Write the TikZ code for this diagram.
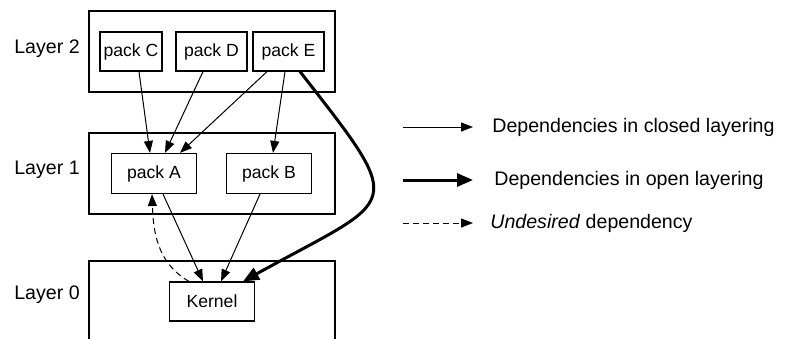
\documentclass[tikz,border=0pt]{standalone}
\usepackage{fontspec}
\setmainfont{Liberation Sans}
\usetikzlibrary{arrows.meta, positioning}

\begin{document}
\begin{tikzpicture}[
        x=0.5pt, y=-0.5pt,
        layer/.style={rectangle, draw, line width=0.6pt, inner sep=0pt,
                     minimum width=123pt, minimum height=40.5pt},
        pack/.style={rectangle, draw, line width=0.6pt, inner sep=0pt,
                     minimum height=19.5pt, font=\fontsize{8.8}{10}\selectfont},
        label/.style={inner sep=0pt, font=\fontsize{9.8}{12}\selectfont},
        arrow/.style={-{Triangle[length=6pt, width=4.5pt]}, line width=0.5pt},
        open/.style={-{Triangle[length=8pt, width=6.5pt]}, line width=1.5pt},
        undesired/.style={arrow, dashed, dash pattern=on 3pt off 2pt}
    ]
        \path[clip] (0,0) rectangle (788,338);

        % Layers
        \node[layer] (layer2) at (212,51.5) {};
        \node[layer] (layer1) at (212,173.5) {};
        \node[layer, minimum height=60pt] (layer0) at (212,321) {};
        \node[label] (l2) at (47,49) {Layer 2};
        \node[label] (l1) at (47,170) {Layer 1};
        \node[label] (l0) at (47,295) {Layer 0};

        % Packages
        \node[pack, minimum width=31pt] (packC) at (131,51.5) {pack C};
        \node[pack, minimum width=35.5pt] (packD) at (211.5,51.5) {pack D};
        \node[pack, minimum width=35.5pt] (packE) at (288.5,51.5) {pack E};
        \node[pack, minimum width=42.5pt, minimum height=20pt] (packA) at (154,173.5) {pack A};
        \node[pack, minimum width=42.5pt, minimum height=20pt] (packB) at (269,173.5) {pack B};
        \node[pack, minimum width=42.5pt] (kernel) at (212,301.5) {Kernel};

        % Closed layering
        \draw[arrow] ([xshift=4pt]packC.south) -- ([xshift=-2pt]packA.north);
        \draw[arrow] ([xshift=-4.25pt]packD.south) -- ([xshift=5.5pt]packA.north);
        \draw[arrow] ([xshift=-10.75pt]packE.south) -- ([xshift=13pt]packA.north);
        \draw[arrow] ([xshift=-1.75pt]packE.south) -- ([xshift=2pt]packB.north);
        \draw[arrow] ([xshift=4.5pt]packA.south) -- ([xshift=-4.5pt]kernel.north);
        \draw[arrow] ([xshift=-4.5pt]packB.south) -- ([xshift=4.5pt]kernel.north);

        % Open layering
        \draw[open] ([xshift=5.75pt]packE.south) to[out=-52, in=29, looseness=2.1]
            ([xshift=15.5pt]kernel.north);

        % Undesired
        \draw[undesired] ([xshift=-11.5pt]kernel.north) to[out=150, in=-88]
            ([xshift=-1pt]packA.south);

        % Legend
        \coordinate (k1) at (403,127);
        \coordinate (k1e) at (473,127);
        \coordinate (k2) at (403,180);
        \coordinate (k2e) at (473,180);
        \coordinate (k3) at (403,223);
        \coordinate (k3e) at (473,223);
        \draw[arrow] (k1) -- (k1e);
        \draw[open] (k2) -- (k2e);
        \draw[undesired] (k3) -- (k3e);
        \node[label, anchor=west] (t1) at (492,127) {Dependencies in closed layering};
        \node[label, anchor=west] (t2) at (494,180) {Dependencies in open layering};
        \node[label, anchor=west] (t3) at (490,223) {\textit{Undesired} dependency};
    \end{tikzpicture}
\end{document}
